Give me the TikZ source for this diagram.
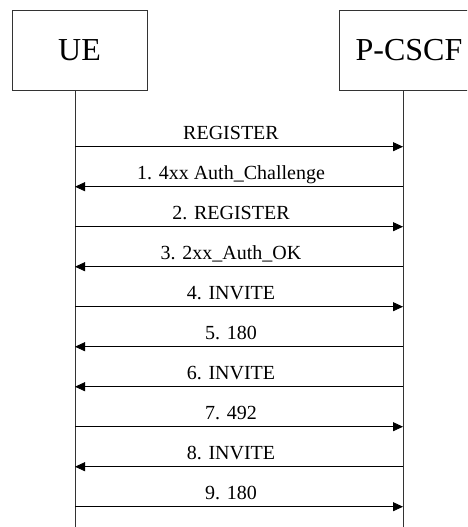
\documentclass[tikz,border=0pt]{standalone}
\usepackage{fontspec}
\setmainfont{Liberation Serif}
\usetikzlibrary{positioning, arrows.meta}

\begin{document}
\begin{tikzpicture}[x=1pt, y=-1pt,
    msg/.style={-{Triangle[length=10pt,width=9pt]}, line width=0.8pt},
    lbl/.style={anchor=base, yshift=7.4pt, xshift=-8pt, inner sep=0pt, font=\fontsize{20}{24}\selectfont}]
  \useasboundingbox (0,0) rectangle (467,527);
  \clip (0,0) rectangle (467,527);
  \begin{scope}[every node/.style={draw=black!80, line width=0.8pt, minimum height=80pt, inner sep=0pt, font=\fontsize{32}{38}\selectfont}]
    \node (ue) [minimum width=135pt] at (79.5, 50) {UE};
    \node (pcscf) [minimum width=140pt] at (409, 50) {P-CSCF};
  \end{scope}
  % lifelines
  \coordinate (ue top) at (75, 90);
  \coordinate (ue end) at (75, 527);
  \coordinate (pcscf top) at (403, 90);
  \coordinate (pcscf end) at (403, 527);
  \draw[black!80, line width=0.8pt] (ue top) -- (ue end);
  \draw[black!80, line width=0.8pt] (pcscf top) -- (pcscf end);
  % message points
  \coordinate (u0) at (75, 146.7);  \coordinate (p0) at (403, 146.7);
  \coordinate (u1) at (75, 186.7);  \coordinate (p1) at (403, 186.7);
  \coordinate (u2) at (75, 226.7);  \coordinate (p2) at (403, 226.7);
  \coordinate (u3) at (75, 266.7);  \coordinate (p3) at (403, 266.7);
  \coordinate (u4) at (75, 306.7);  \coordinate (p4) at (403, 306.7);
  \coordinate (u5) at (75, 346.7);  \coordinate (p5) at (403, 346.7);
  \coordinate (u6) at (75, 386.7);  \coordinate (p6) at (403, 386.7);
  \coordinate (u7) at (75, 426.7);  \coordinate (p7) at (403, 426.7);
  \coordinate (u8) at (75, 466.7);  \coordinate (p8) at (403, 466.7);
  \coordinate (u9) at (75, 506.7);  \coordinate (p9) at (403, 506.7);
  % messages
  \path (u0) edge[msg] node[lbl] {REGISTER} (p0);
  \path (p1) edge[msg] node[lbl] {1. 4xx Auth\_Challenge} (u1);
  \path (u2) edge[msg] node[lbl] {2. REGISTER} (p2);
  \path (p3) edge[msg] node[lbl] {3. 2xx\_Auth\_OK} (u3);
  \path (u4) edge[msg] node[lbl] {4. INVITE} (p4);
  \path (p5) edge[msg] node[lbl] {5. 180} (u5);
  \path (p6) edge[msg] node[lbl] {6. INVITE} (u6);
  \path (u7) edge[msg] node[lbl] {7. 492} (p7);
  \path (p8) edge[msg] node[lbl] {8. INVITE} (u8);
  \path (u9) edge[msg] node[lbl] {9. 180} (p9);
\end{tikzpicture}
\end{document}
